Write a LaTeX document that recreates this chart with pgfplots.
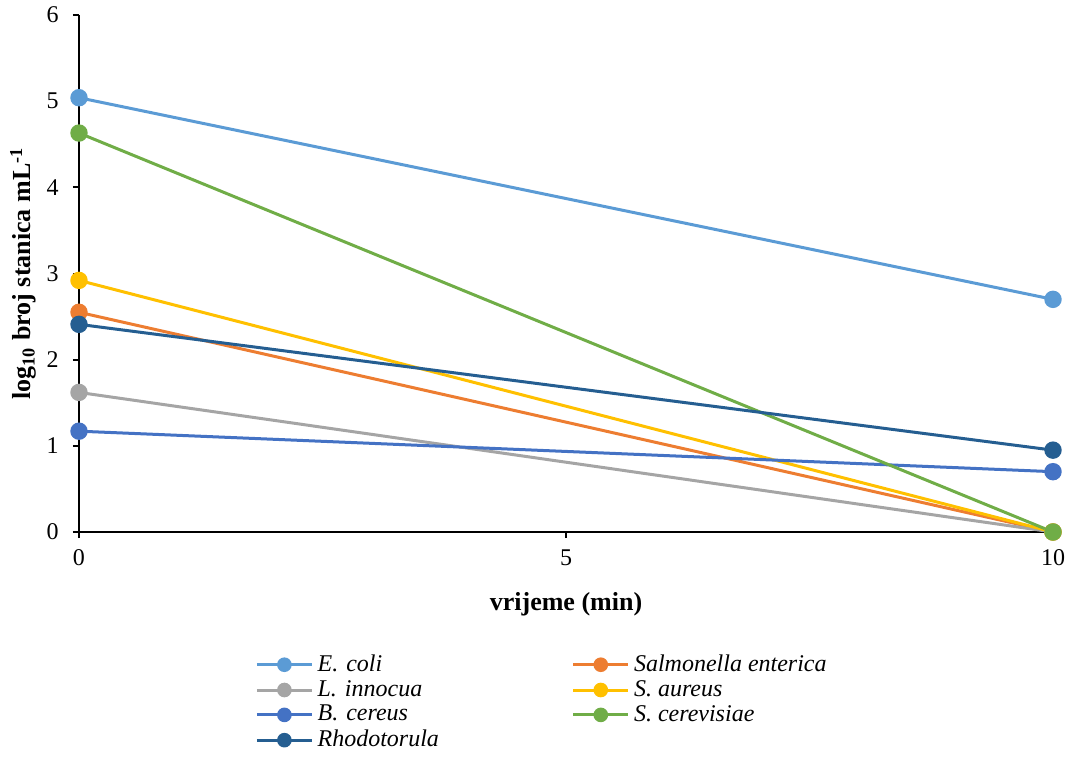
\documentclass[border=0pt]{standalone}
\usepackage{pgfplots}
\pgfplotsset{compat=1.18}
\usepackage{fontspec}
\setmainfont{Liberation Serif}
\definecolor{cEcoli}{HTML}{5B9BD5}
\definecolor{cSalm}{HTML}{ED7D31}
\definecolor{cList}{HTML}{A5A5A5}
\definecolor{cSaur}{HTML}{FFC000}
\definecolor{cBcer}{HTML}{4472C4}
\definecolor{cScer}{HTML}{70AD47}
\definecolor{cRhod}{HTML}{255E91}
\begin{document}
\fontsize{12}{14.4}\selectfont
\begin{tikzpicture}
\useasboundingbox (-39.5pt,-119.5pt) rectangle (495.5pt,266pt);
\begin{axis}[
  scale only axis,
  width=487pt, height=258.5pt,
  at={(0,0)}, anchor=south west,
  xmin=0, xmax=10, ymin=0, ymax=6,
  xtick={0,5,10}, ytick={0,1,2,3,4,5,6},
  axis x line*=bottom, axis y line*=left,
  axis line style={line width=0.9pt, -},
  tick style={line width=0.9pt, black},
  tick align=outside, major tick length=3pt,
  /pgf/number format/assume math mode=true,
  ticklabel style={font=\fontsize{12}{14.4}\selectfont},
  yticklabel style={xshift=-3pt},
  xticklabel style={yshift=-1.5pt},
  xlabel={\textbf{vrijeme (min)}},
  ylabel={\textbf{log\textsubscript{10} broj stanica mL\textsuperscript{-1}}},
  label style={font=\fontsize{13}{15.6}\selectfont},
  xlabel style={at={(0.5,0)}, anchor=north, yshift=-26pt},
  ylabel style={at={(0,0.5)}, anchor=south, yshift=17pt},
  every axis plot/.append style={line width=1.5pt, mark=*, mark size=3.6pt},
  clip=false,
  legend columns=2,
  legend cell align=left,
  legend style={at={(85pt,-58.5pt)}, anchor=north west, draw=none, fill=none,
    font=\itshape\fontsize{12}{14.4}\selectfont,
    row sep=1.5pt,
    nodes={inner sep=0.6pt},
    /tikz/every even column/.append style={column sep=0pt},
    /tikz/column 2/.style={column sep=0pt, text width=126.5pt}},
  legend image code/.code={
    \draw[#1, mark=none] (0pt,0pt) -- (27.5pt,0pt);
    \draw[#1, mark size=2.9pt] plot coordinates {(13.75pt,0pt)};
    \path (29pt,0pt);
  },
]
\addplot[color=cEcoli, mark options={fill=cEcoli}] coordinates {(0,5.04) (10,2.70)};
\addlegendentry{E. coli}
\addplot[color=cSalm, mark options={fill=cSalm}] coordinates {(0,2.55) (10,0)};
\addlegendentry{Salmonella enterica}
\addplot[color=cList, mark options={fill=cList}] coordinates {(0,1.62) (10,0)};
\addlegendentry{L. innocua}
\addplot[color=cSaur, mark options={fill=cSaur}] coordinates {(0,2.92) (10,0)};
\addlegendentry{S. aureus}
\addplot[color=cBcer, mark options={fill=cBcer}] coordinates {(0,1.17) (10,0.70)};
\addlegendentry{B. cereus}
\addplot[color=cScer, mark options={fill=cScer}] coordinates {(0,4.63) (10,0)};
\addlegendentry{S. cerevisiae}
\addplot[color=cRhod, mark options={fill=cRhod}] coordinates {(0,2.41) (10,0.95)};
\addlegendentry{Rhodotorula}
\end{axis}
\end{tikzpicture}
\end{document}
